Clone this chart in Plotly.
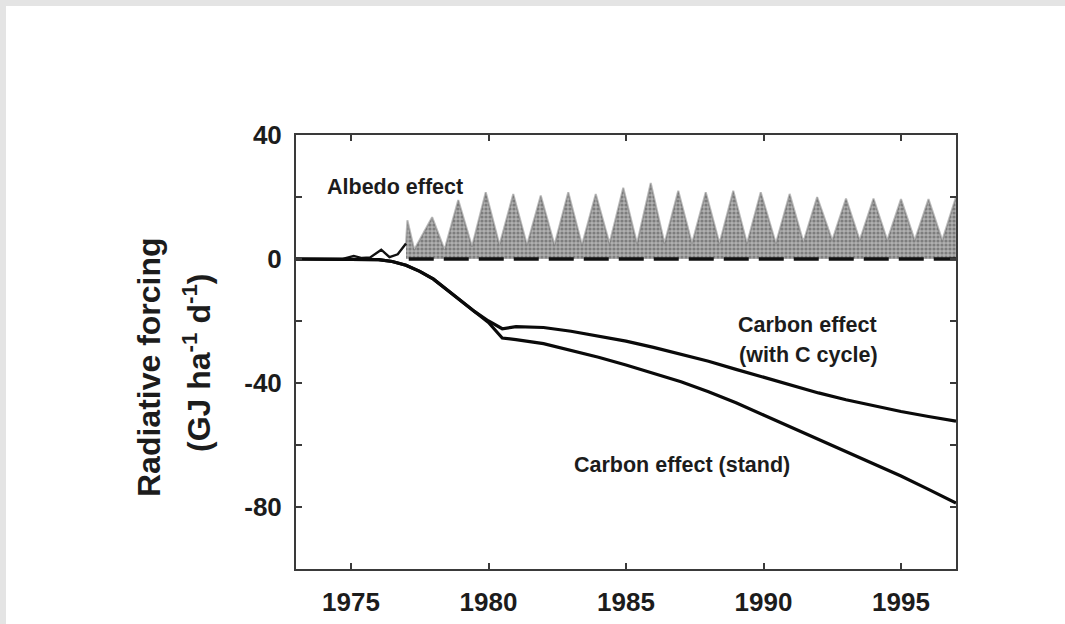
import plotly.graph_objects as go

# ---------------- data ----------------
carbon_years = [1973, 1974, 1975, 1976, 1976.5, 1977, 1977.5, 1978, 1978.5, 1979,
                1979.5, 1980, 1980.5, 1981, 1982, 1983, 1984, 1985, 1986, 1987,
                1988, 1989, 1990, 1991, 1992, 1993, 1994, 1995, 1996, 1997]
carbon_cycle = [0, 0, 0, -0.2, -0.8, -2, -4, -6.5, -10, -13.5,
                -17, -20, -22.5, -21.8, -22.1, -23.3, -24.8, -26.5, -28.5, -30.7,
                -33, -35.6, -38.2, -40.8, -43.2, -45.4, -47.4, -49.2, -50.8, -52.3]
carbon_stand = [0, 0, 0, -0.2, -0.8, -2, -4, -6.5, -10, -13.5,
                -17, -20.5, -25.5, -26, -27.3, -29.4, -31.7, -34.2, -36.8, -39.6,
                -42.8, -46.4, -50.3, -54.2, -58.1, -62, -66, -70, -74.3, -78.7]

albedo_early_t = [1973, 1974.7, 1975.1, 1975.4, 1975.7, 1976.1, 1976.4, 1976.7, 1977.0]
albedo_early_v = [0, 0, 1.0, 0.3, 0.5, 3.0, 0.6, 1.5, 5.0]

albedo_t = [1977.0, 1977.05, 1977.3, 1977.95, 1978.4, 1978.9, 1979.4, 1979.9, 1980.4,
            1980.9, 1981.4, 1981.9, 1982.4, 1982.9, 1983.4, 1983.9, 1984.4, 1984.9,
            1985.4, 1985.9, 1986.4, 1986.9, 1987.4, 1987.9, 1988.4, 1988.9, 1989.4,
            1989.9, 1990.45, 1990.95, 1991.45, 1991.95, 1992.5, 1993.0, 1993.5,
            1994.0, 1994.5, 1995.0, 1995.5, 1996.0, 1996.5, 1997.0]
albedo_top = [5, 12.5, 3, 13.5, 3, 19, 4, 21.5, 4.5,
              21, 4.5, 20.5, 4.5, 21.5, 4.5, 21, 5, 23,
              5, 24.5, 5, 22, 5, 21.5, 5, 22, 5,
              21.5, 5, 21, 5.5, 20, 6, 19.5, 6,
              19.5, 6, 19.3, 6, 19.3, 6, 20]

zero_t = [1977.1, 1997]
zero_v = [0, 0]

x_ticks = [1975, 1980, 1985, 1990, 1995]
y_ticks = [-80, -40, 0, 40]
y_ticktext = ["-80", "-40", "0", "40"]

# ---------------- figure ----------------
W, H = 1065, 624
L, R, T, B = 296, 956, 135, 569
FONT = "Arial, Liberation Sans, Helvetica, sans-serif"
TXT = "#1c1c1c"

fig = go.Figure()

# albedo cloud (stippled)
fig.add_trace(go.Scatter(
    x=albedo_t, y=albedo_top, mode="lines", fill="tozeroy",
    line=dict(color="rgba(120,120,120,0.5)", width=2),
    fillcolor="#9a9a9a",
    fillpattern=dict(shape=".", fgcolor="#4a4a4a", bgcolor="#b0b0b0",
                     size=4, solidity=0.5),
    hoverinfo="skip", showlegend=False))

fig.add_trace(go.Scatter(
    x=albedo_early_t, y=albedo_early_v, mode="lines",
    line=dict(color="#111", width=2.4), showlegend=False))

fig.add_trace(go.Scatter(
    x=zero_t, y=zero_v, mode="lines",
    line=dict(color="#111", width=3.5, dash="25px,10px"), showlegend=False))

fig.add_trace(go.Scatter(
    x=carbon_years, y=carbon_cycle, mode="lines",
    line=dict(color="#0a0a0a", width=3.2), showlegend=False))
fig.add_trace(go.Scatter(
    x=carbon_years, y=carbon_stand, mode="lines",
    line=dict(color="#0a0a0a", width=3.2), showlegend=False))

axis_common = dict(showgrid=False, zeroline=False, showline=True, automargin=False,
                   linecolor="#3a3a3a", linewidth=2, mirror="ticks",
                   ticks="inside", ticklen=6, tickwidth=2, tickcolor="#3a3a3a",
                   tickfont=dict(family=FONT, size=26, color=TXT, weight="bold"))

fig.update_xaxes(range=[1973, 1997], tickmode="array", tickvals=x_ticks,
                 ticklabelstandoff=9, **axis_common)
fig.update_yaxes(range=[-100, 40], tickmode="array", tickvals=y_ticks,
                 ticktext=y_ticktext, ticklabelstandoff=7,
                 minor=dict(tickmode="linear", tick0=0, dtick=20, ticks="inside",
                            ticklen=6, tickwidth=2, tickcolor="#3a3a3a",
                            showgrid=False),
                 **axis_common)

def px_x(px):
    return (px - L) / (R - L)

def px_y(py):
    return (B - py) / (B - T)

annots = [
    dict(text="Albedo effect", x=1976.6, y=23.2),
    dict(text="Carbon effect", x=1991.6, y=-21.3),
    dict(text="(with C cycle)", x=1991.65, y=-31.0),
    dict(text="Carbon effect (stand)", x=1987.05, y=-66.5),
]
for a in annots:
    fig.add_annotation(text=a["text"], x=a["x"], y=a["y"], xref="x", yref="y",
                       showarrow=False, xanchor="center", yanchor="middle",
                       font=dict(family=FONT, size=21.5, color=TXT, weight="bold"))

# y-axis title (two lines)
fig.add_annotation(text="Radiative forcing", x=px_x(149), y=px_y(367),
                   xref="paper", yref="paper", showarrow=False, textangle=-90,
                   xanchor="center", yanchor="middle",
                   font=dict(family=FONT, size=32, color=TXT, weight="bold"))
fig.add_annotation(text="(GJ ha<sup>-1</sup> d<sup>-1</sup>)", x=px_x(197), y=px_y(363),
                   xref="paper", yref="paper", showarrow=False, textangle=-90,
                   xanchor="center", yanchor="middle",
                   font=dict(family=FONT, size=32, color=TXT, weight="bold"))

# page frame: grey border at top/left, white sheet
fig.add_shape(type="rect", xref="paper", yref="paper", layer="below",
              x0=px_x(6), x1=px_x(W + 5), y0=px_y(H + 5), y1=px_y(6),
              fillcolor="white", line=dict(width=0))

fig.update_layout(width=W, height=H,
                  margin=dict(l=L, r=W - R, t=T, b=H - B, autoexpand=False),
                  paper_bgcolor="#e4e4e4", plot_bgcolor="white",
                  showlegend=False)

fig.write_html("out.html", config={"displayModeBar": False},
               post_script="document.body.style.margin='0px';"
                           "document.body.style.overflow='hidden';")
